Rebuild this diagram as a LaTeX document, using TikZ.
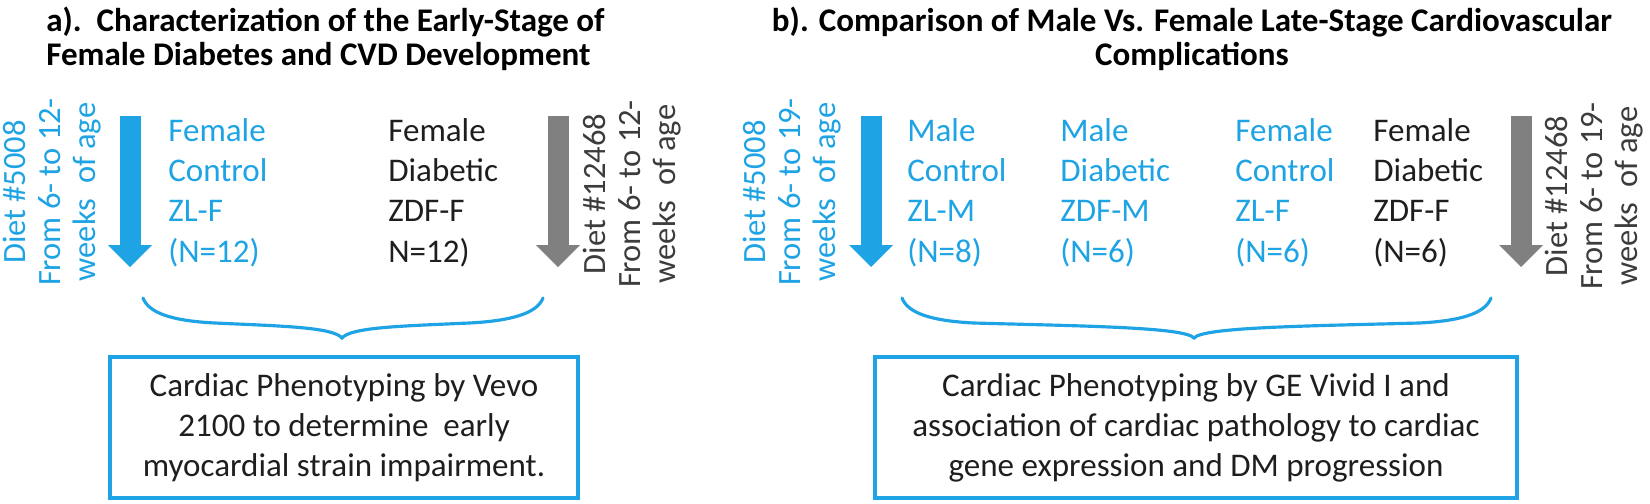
\documentclass[tikz,border=0pt]{standalone}
\usepackage{fontspec}
\setmainfont{Carlito}
\usetikzlibrary{arrows.meta,positioning}
\definecolor{skyblue}{RGB}{30,163,228}
\definecolor{arrowgray}{RGB}{128,128,128}
\definecolor{textgray}{RGB}{60,60,60}
\definecolor{textblack}{RGB}{30,30,30}

\begin{document}
\begin{tikzpicture}[
  heading/.style={font=\fontsize{18.8}{19.5}\selectfont\bfseries, inner sep=0pt, text=black},
  group/.style={font=\fontsize{18.8}{23}\selectfont, align=left, inner sep=0pt, anchor=west},
  diet/.style={font=\fontsize{18.5}{20}\selectfont, align=center, inner sep=0pt, rotate=90},
  feed/.style={line width=0.42cm, -{Triangle[width=0.88cm,length=0.44cm,line width=0pt]}},
  outcome/.style={draw=skyblue, line width=2.3pt, align=center, inner sep=0pt,
    font=\fontsize{18.8}{22.8}\selectfont, text=textblack},
  curly/.style={draw=skyblue, line width=1.8pt, line cap=round}
]
  \useasboundingbox (0,0) rectangle (33,-10.06);

  % titles
  \node [heading, anchor=north west, align=left] (titleA) at (0.92,-0.13)
    {a).\ \ Characterization of the Early-Stage of\\Female Diabetes and CVD Development};
  \node [heading, anchor=north, align=center] (titleB) at (23.84,-0.13)
    {b). Comparison of Male Vs. Female Late-Stage Cardiovascular\\Complications};

  % a) early stage
  \node [diet, text=skyblue] (dietAc) at (1.04,-3.84) {Diet \#5008\\From 6- to 12-\\weeks\ \ of age};
  \coordinate (feedAc) at (2.6,-2.32);
  \coordinate (endAc) at (2.6,-5.34);
  \draw [feed, skyblue] (feedAc) -- (endAc);
  \node [group, text=skyblue] (zlfA) at (3.36,-3.85) {Female\\Control\\ZL-F\\(N=12)};
  \node [group, text=textblack] (zdffA) at (7.76,-3.85) {Female\\Diabetic\\ZDF-F\\N=12)};
  \coordinate (feedAd) at (11.16,-2.32);
  \coordinate (endAd) at (11.16,-5.34);
  \draw [feed, arrowgray] (feedAd) -- (endAd);
  \node [diet, text=textgray] (dietAd) at (12.64,-3.88) {Diet \#12468\\From 6- to 12-\\weeks\ \ of age};

  \draw [curly] (2.86,-5.96) .. controls (2.98,-6.28) and (3.5,-6.42) .. (4.3,-6.46)
    .. controls (5.6,-6.52) and (6.66,-6.54) .. (6.84,-6.76)
    .. controls (7.02,-6.54) and (8.08,-6.52) .. (9.38,-6.46)
    .. controls (10.18,-6.42) and (10.74,-6.28) .. (10.86,-5.96);
  \node [outcome, minimum width=9.36cm, minimum height=2.82cm] (vevo) at (6.88,-8.55)
    {Cardiac Phenotyping by Vevo\\2100 to determine\ \ early\\myocardial strain impairment.};

  % b) late stage
  \node [diet, text=skyblue] (dietBc) at (15.84,-3.84) {Diet \#5008\\From 6- to 19-\\weeks\ \ of age};
  \coordinate (feedBc) at (17.42,-2.32);
  \coordinate (endBc) at (17.42,-5.34);
  \draw [feed, skyblue] (feedBc) -- (endBc);
  \node [group, text=skyblue] (zlmB) at (18.14,-3.85) {Male\\Control\\ZL-M\\(N=8)};
  \node [group, text=skyblue] (zdfmB) at (21.2,-3.85) {Male\\Diabetic\\ZDF-M\\(N=6)};
  \node [group, text=skyblue] (zlfB) at (24.7,-3.85) {Female\\Control\\ZL-F\\(N=6)};
  \node [group, text=textblack] (zdffB) at (27.46,-3.85) {Female\\Diabetic\\ZDF-F\\(N=6)};
  \coordinate (feedBd) at (30.42,-2.32);
  \coordinate (endBd) at (30.42,-5.34);
  \draw [feed, arrowgray] (feedBd) -- (endBd);
  \node [diet, text=textgray] (dietBd) at (31.88,-3.92) {Diet \#12468\\From 6- to 19-\\weeks\ \ of age};

  \draw [curly] (18.04,-5.96) .. controls (18.16,-6.28) and (18.68,-6.42) .. (19.48,-6.46)
    .. controls (21.6,-6.52) and (23.7,-6.54) .. (23.88,-6.76)
    .. controls (24.06,-6.54) and (26.18,-6.52) .. (28.38,-6.46)
    .. controls (29.18,-6.42) and (29.7,-6.28) .. (29.82,-5.96);
  \node [outcome, minimum width=12.84cm, minimum height=2.82cm] (vivid) at (23.92,-8.55)
    {Cardiac Phenotyping by GE Vivid I and\\association of cardiac pathology to cardiac\\gene expression and DM progression};
\end{tikzpicture}
\end{document}
